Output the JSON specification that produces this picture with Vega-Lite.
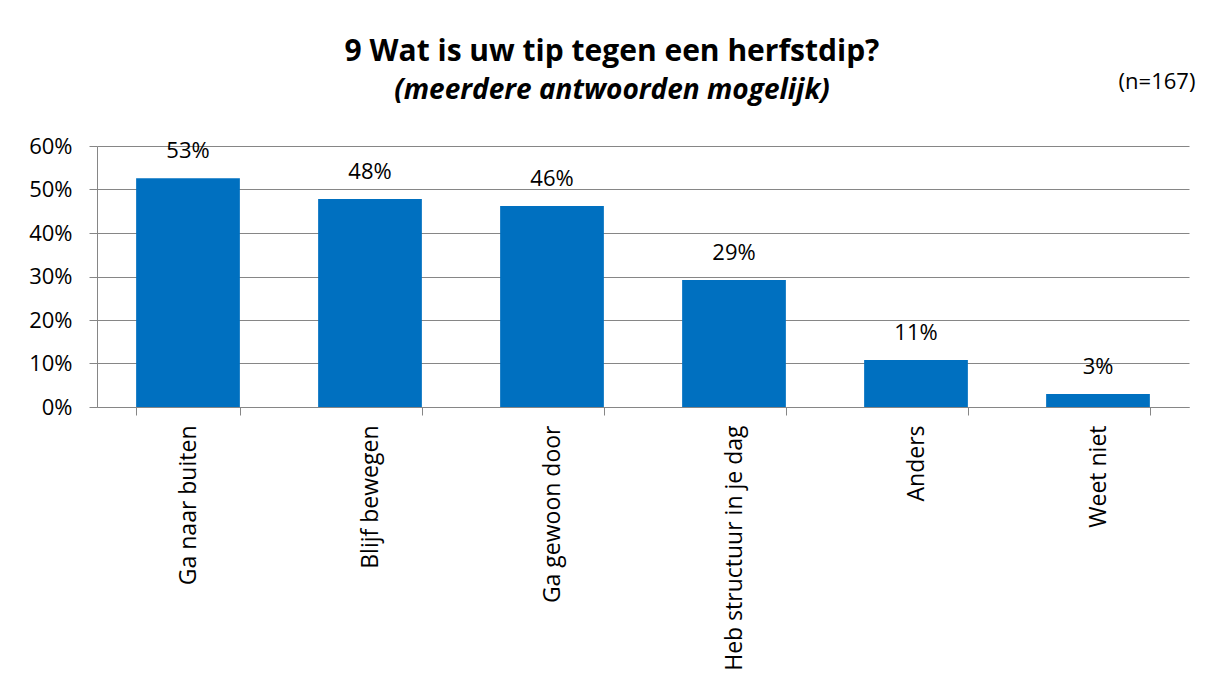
{
  "$schema": "https://vega.github.io/schema/vega-lite/v6.json",
  "width": 1092,
  "height": 261,
  "autosize": {"type": "none"},
  "padding": {"left": 97, "top": 146, "right": 25, "bottom": 277},
  "background": "white",
  "config": {"view": {"stroke": null}, "font": "Open Sans"},
  "title": {
    "text": "9 Wat is uw tip tegen een herfstdip?",
    "subtitle": "(meerdere antwoorden mogelijk)",
    "font": "Open Sans",
    "fontSize": 30,
    "fontWeight": "bold",
    "color": "black",
    "subtitleFont": "Open Sans",
    "subtitleFontSize": 28,
    "subtitleFontStyle": "italic",
    "subtitleFontWeight": "bold",
    "subtitleColor": "black",
    "subtitlePadding": 10,
    "anchor": "middle",
    "frame": "bounds",
    "offset": -34
  },
  "data": {
    "values": [
      {"cat": "Ga naar buiten", "value": 0.526},
      {"cat": "Blijf bewegen", "value": 0.478},
      {"cat": "Ga gewoon door", "value": 0.462},
      {"cat": "Heb structuur in je dag", "value": 0.292},
      {"cat": "Anders", "value": 0.108},
      {"cat": "Weet niet", "value": 0.03}
    ]
  },
  "encoding": {
    "x": {
      "field": "cat",
      "type": "nominal",
      "sort": null,
      "scale": {"paddingInner": 0.43, "paddingOuter": 0.215},
      "axis": {
        "title": null,
        "labelAngle": -90,
        "labelFontSize": 23,
        "labelColor": "black",
        "labelPadding": 10,
        "labelLimit": 0,
        "tickBand": "extent",
        "tickSize": 8,
        "tickColor": "#868686",
        "domainColor": "#868686",
        "grid": false
      }
    },
    "y": {
      "field": "value",
      "type": "quantitative",
      "scale": {"domain": [0, 0.6], "nice": false},
      "axis": {
        "title": null,
        "format": ".0%",
        "values": [0, 0.1, 0.2, 0.3, 0.4, 0.5, 0.6],
        "labelFontSize": 22,
        "labelColor": "black",
        "labelPadding": 17,
        "tickSize": 8,
        "tickColor": "#868686",
        "domainColor": "#868686",
        "gridColor": "#868686",
        "gridOpacity": 1
      }
    }
  },
  "layer": [
    {"mark": {"type": "bar", "color": "#0070C0"}},
    {
      "mark": {"type": "text", "baseline": "bottom", "dy": -15, "fontSize": 22, "color": "black"},
      "encoding": {"text": {"field": "value", "type": "quantitative", "format": ".0%"}}
    },
    {
      "data": {"values": [{"label": "(n=167)", "cat": "Weet niet", "pos": 0.747}]},
      "mark": {"type": "text", "baseline": "middle", "align": "center", "dx": 59, "fontSize": 22, "color": "black"},
      "encoding": {
        "x": {"field": "cat", "type": "nominal"},
        "y": {"field": "pos", "type": "quantitative"},
        "text": {"field": "label"}
      }
    }
  ]
}
